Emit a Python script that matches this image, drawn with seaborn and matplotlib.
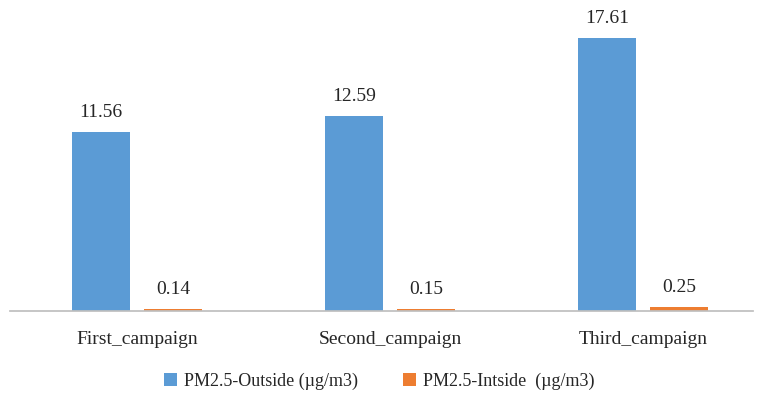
import matplotlib
matplotlib.use("Agg")
import matplotlib.pyplot as plt
import seaborn as sns
import pandas as pd

categories = ["First_campaign", "Second_campaign", "Third_campaign"]
outside = [11.56, 12.59, 17.61]
inside = [0.14, 0.15, 0.25]
series = ["PM2.5-Outside (µg/m3)", "PM2.5-Intside  (µg/m3)"]

df = pd.DataFrame({
    "cat": categories * 2,
    "val": outside + inside,
    "series": [series[0]] * 3 + [series[1]] * 3,
})

sns.set_theme(style="white")
plt.rcParams["font.family"] = ["Liberation Serif", "DejaVu Serif"]

fig = plt.figure(figsize=(7.59, 4.01), dpi=100)
ax = fig.add_axes([0.0135, 0.224, 0.978, 0.77])
sns.barplot(data=df, x="cat", y="val", hue="series", palette=["#5B9BD5", "#ED7D31"],
            width=0.57, gap=0.2, saturation=1, linewidth=0, ax=ax, legend=True)
for c in ax.containers:
    ax.bar_label(c, fmt="%.2f", padding=8, fontsize=14)
ax.set_ylim(0, 19.9)
ax.set_xlim(-0.5, 2.433)
ax.set_yticks([])
ax.set_xlabel("")
ax.set_ylabel("")
for s in ["top", "right", "left"]:
    ax.spines[s].set_visible(False)
ax.spines["bottom"].set_color("#BFBFBF")
ax.tick_params(axis="x", labelsize=14, pad=8)
h, l = ax.get_legend_handles_labels()
ax.legend_.remove()
fig.legend(h, l, loc="center", bbox_to_anchor=(0.5, 0.05), ncol=2, frameon=False,
           fontsize=13, handlelength=0.7, handleheight=0.7, columnspacing=2.5, handletextpad=0.4)
fig.savefig("out.png", dpi=100)
